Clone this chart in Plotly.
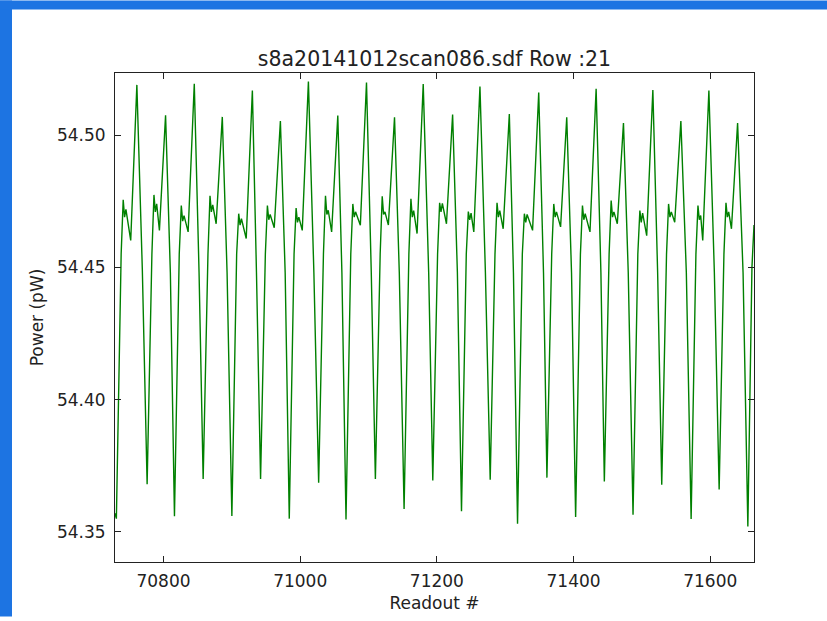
import plotly.graph_objects as go

# ---- data ----
chart_title = "s8a20141012scan086.sdf Row :21"
x_label = "Readout #"
y_label = "Power (pW)"

readout = [
    70729,
    70731, 70738, 70741, 70743, 70745, 70752, 70761, 70769,
    70776, 70783, 70786, 70788, 70790, 70794, 70803, 70810,
    70816, 70823, 70826, 70828, 70830, 70836, 70845, 70852,
    70858, 70865, 70868, 70870, 70872, 70877, 70886, 70893,
    70900, 70907, 70910, 70912, 70914, 70921, 70930, 70936,
    70942, 70949, 70952, 70954, 70956, 70962, 70971, 70978,
    70984, 70991, 70994, 70996, 70998, 71003, 71012, 71020,
    71027, 71034, 71037, 71039, 71041, 71046, 71055, 71061,
    71067, 71074, 71077, 71079, 71081, 71088, 71097, 71104,
    71110, 71117, 71120, 71122, 71124, 71129, 71138, 71145,
    71152, 71159, 71162, 71164, 71166, 71171, 71180, 71188,
    71194, 71201, 71204, 71206, 71208, 71214, 71223, 71230,
    71236, 71243, 71246, 71248, 71250, 71254, 71263, 71271,
    71278, 71285, 71288, 71290, 71292, 71297, 71306, 71312,
    71318, 71325, 71328, 71330, 71332, 71340, 71349, 71356,
    71361, 71368, 71371, 71373, 71375, 71381, 71390, 71397,
    71403, 71410, 71413, 71415, 71417, 71424, 71433, 71440,
    71445, 71452, 71455, 71457, 71459, 71464, 71473, 71480,
    71487, 71494, 71497, 71499, 71501, 71507, 71516, 71523,
    71529, 71536, 71539, 71541, 71543, 71548, 71557, 71565,
    71572, 71579, 71582, 71584, 71586, 71589, 71598, 71606,
    71613, 71620, 71623, 71625, 71627, 71631, 71640, 71648,
    71655, 71661, 71664,
]

power_pw = [
    54.357,
    54.355, 54.455, 54.4756, 54.469, 54.4719, 54.4602, 54.519, 54.449,
    54.368, 54.455, 54.4774, 54.471, 54.474, 54.464, 54.5075, 54.448,
    54.3559, 54.455, 54.4734, 54.4675, 54.4696, 54.4634, 54.5194, 54.448,
    54.370, 54.455, 54.4771, 54.471, 54.4736, 54.4665, 54.5069, 54.448,
    54.356, 54.455, 54.4703, 54.466, 54.4684, 54.4609, 54.5169, 54.448,
    54.370, 54.455, 54.4734, 54.468, 54.470, 54.465, 54.5053, 54.448,
    54.355, 54.455, 54.4724, 54.467, 54.469, 54.464, 54.5203, 54.448,
    54.3686, 54.455, 54.4771, 54.470, 54.4716, 54.4634, 54.5074, 54.448,
    54.3547, 54.455, 54.474, 54.469, 54.471, 54.4659, 54.5199, 54.448,
    54.370, 54.455, 54.4769, 54.470, 54.471, 54.466, 54.5068, 54.448,
    54.3586, 54.455, 54.4759, 54.469, 54.4715, 54.4628, 54.5193, 54.448,
    54.3694, 54.455, 54.4744, 54.471, 54.4742, 54.4665, 54.5078, 54.448,
    54.3578, 54.455, 54.4711, 54.468, 54.4705, 54.4634, 54.5184, 54.448,
    54.3697, 54.455, 54.4744, 54.469, 54.4715, 54.4646, 54.508, 54.448,
    54.3531, 54.455, 54.4703, 54.467, 54.470, 54.464, 54.5161, 54.448,
    54.3705, 54.455, 54.474, 54.469, 54.471, 54.4653, 54.5068, 54.448,
    54.3556, 54.455, 54.4734, 54.468, 54.4703, 54.4634, 54.5175, 54.448,
    54.369, 54.455, 54.4753, 54.469, 54.471, 54.4665, 54.5046, 54.448,
    54.3565, 54.455, 54.4715, 54.467, 54.4705, 54.462, 54.5171, 54.448,
    54.3678, 54.455, 54.474, 54.469, 54.471, 54.4671, 54.5053, 54.448,
    54.3549, 54.455, 54.4734, 54.468, 54.4696, 54.4602, 54.5169, 54.448,
    54.366, 54.455, 54.4744, 54.469, 54.471, 54.4646, 54.5046, 54.448,
    54.352, 54.450, 54.466,
]

x_ticks = [70800, 71000, 71200, 71400, 71600]
y_ticks = [54.35, 54.40, 54.45, 54.50]
x_range = [70729, 71664]
y_range = [54.3386, 54.5235]

# ---- figure ----
FONT = "DejaVu Sans"
fig = go.Figure()
fig.add_trace(go.Scatter(
    x=readout, y=power_pw, mode="lines",
    line=dict(color="#008000", width=1.4),
    hoverinfo="skip", showlegend=False,
))

axis_common = dict(
    showline=True, linecolor="#222222", linewidth=1,
    mirror="ticks", ticks="inside", ticklen=6, tickwidth=1,
    tickcolor="#222222", showgrid=False, zeroline=False,
    tickfont=dict(family=FONT, size=17, color="#222222"),
)

fig.update_layout(
    width=827, height=621,
    margin=dict(l=115, r=73, t=73, b=55),
    paper_bgcolor="white", plot_bgcolor="white",
    title=dict(text=chart_title, x=0.5, xref="paper", xanchor="center",
               y=(621 - 59) / 621, yref="container", yanchor="middle",
               font=dict(family=FONT, size=20.5, color="#222222")),
    xaxis=dict(range=x_range, tickvals=x_ticks,
               ticktext=[str(v) for v in x_ticks],
               title=dict(text=x_label, standoff=6,
                          font=dict(family=FONT, size=17, color="#222222")),
               ticklabelstandoff=4,
               **axis_common),
    yaxis=dict(range=y_range, tickvals=y_ticks,
               ticktext=[f"{v:.2f}" for v in y_ticks],
               title=dict(text=y_label, standoff=8,
                          font=dict(family=FONT, size=17, color="#222222")),
               ticklabelstandoff=5,
               **axis_common),
)

# desktop-blue bands around the screenshot window (left and top edges)
pw, ph = 639.0, 493.0
fig.add_shape(type="rect", xref="paper", yref="paper",
              x0=-115 / pw, x1=(12 - 115) / pw, y0=-55 / ph, y1=566 / ph,
              fillcolor="#1D74E2", line=dict(width=0), layer="below")
fig.add_shape(type="rect", xref="paper", yref="paper",
              x0=-115 / pw, x1=(827 - 115) / pw, y0=(566 - 9) / ph, y1=566 / ph,
              fillcolor="#1D74E2", line=dict(width=0), layer="below")

fig.write_html("out.html", config={"displayModeBar": False},
               post_script="document.body.style.margin='0';document.body.style.padding='0';")
